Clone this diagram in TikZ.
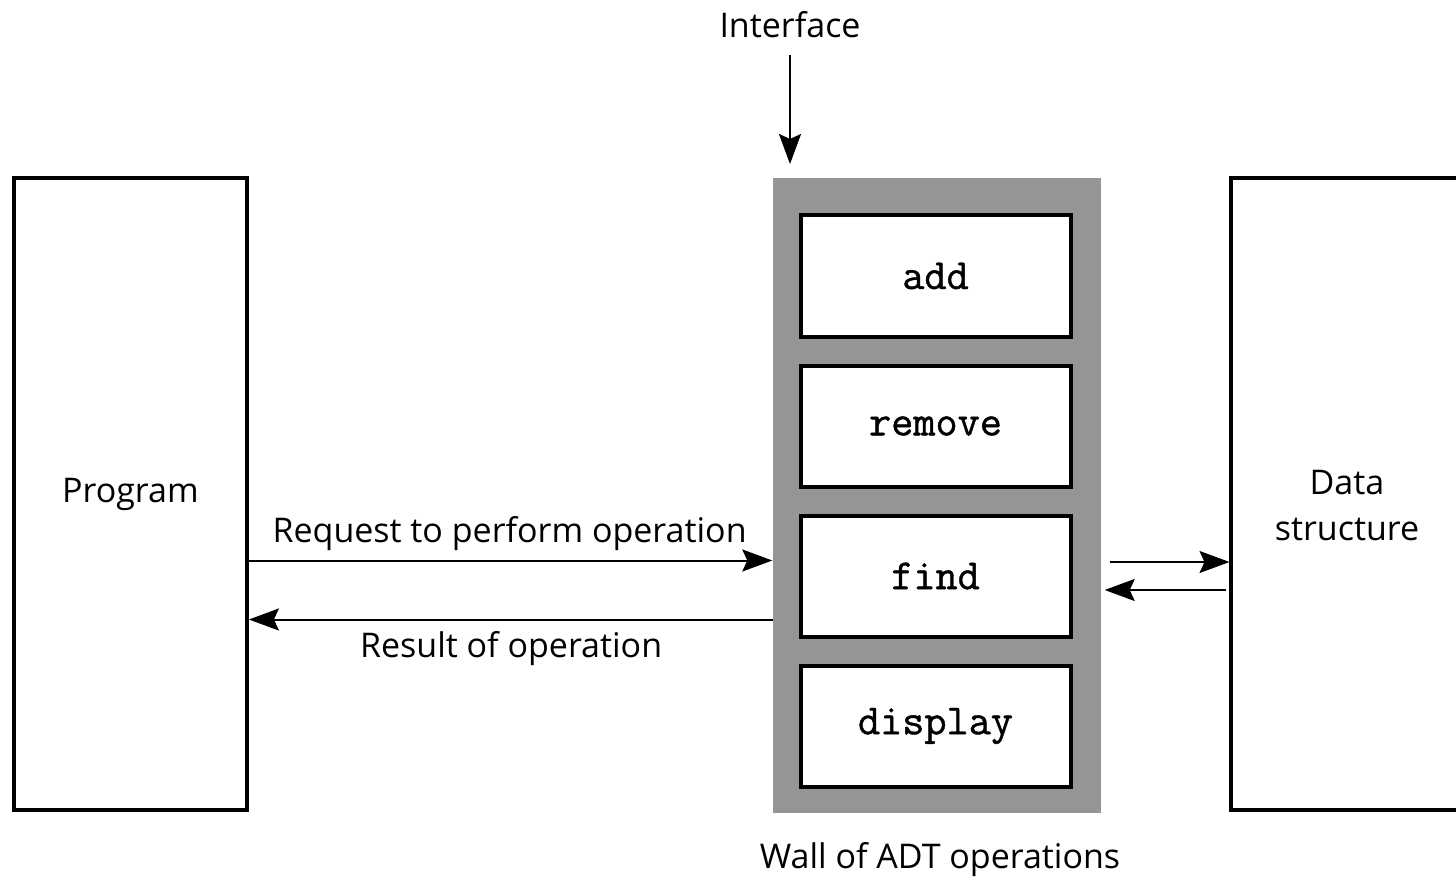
\documentclass[tikz,border=0pt]{standalone}
\usepackage{fontspec}
\setmainfont{Open Sans}
\newfontfamily\opfont{Latin Modern Mono}[FakeBold=1]
\usepackage{xcolor}
\usetikzlibrary{arrows.meta,positioning,calc}
\definecolor{WallGray}{HTML}{959595}
\tikzset{
  block/.style={draw=black,fill=white,line width=2pt,outer sep=0pt,
    minimum width=116.5pt,minimum height=316pt,align=center,
    font=\fontsize{17}{23}\selectfont},
  wall/.style={fill=WallGray,outer sep=0pt,minimum width=163.7pt,minimum height=317.5pt},
  op/.style={draw=black,fill=white,line width=2pt,outer sep=0pt,
    minimum width=135pt,minimum height=60.5pt,font=\fontsize{21.5}{23}\opfont},
  flow/.style={-{Stealth[length=15pt,width=11pt,inset=2.5pt]},line width=1pt},
  lbl/.style={font=\fontsize{17}{23}\selectfont}
}
\begin{document}
\begin{tikzpicture}[x=0.5pt,y=-0.5pt]
  \useasboundingbox (0,0) rectangle (1456,877);
  \clip (0,0) rectangle (1456,877);
  \node[block] (program) at (130.4,494) {Program};
  \node[wall] (wall) at (937,495.5) {};
  \node[block,label={[lbl,align=center,yshift=-6pt]center:Data\\structure}] (data) at (1347,494) {};
  % operations on the wall
  \node[op] (add) at (935.5,276) {add};
  \node[op,below=14.5pt of add] (remove) {remove};
  \node[op,below=14.5pt of remove] (find) {find};
  \node[op,below=14.5pt of find] (display) {display};
  \node[lbl] (iface) at (790,25) {Interface};
  \node[lbl] (walllbl) at (940,860) {Wall of ADT operations};
  \coordinate (ifaceend) at ($(wall.north west)+(17,-14)$);
  \draw[flow] ($(iface.south)+(0,10)$) -- (iface.south |- ifaceend);
  \draw[flow] ($(program.east |- find)+(0,-15.5)$) -- ($(wall.west |- find)+(-1,-15.5)$)
    node[midway,above,lbl,yshift=1pt]{Request to perform operation};
  \draw[flow] ($(wall.west |- find)+(0,43.5)$) -- ($(program.east |- find)+(2,43.5)$)
    node[midway,below,lbl,yshift=-2pt]{Result of operation};
  \draw[flow] ($(wall.east |- find)+(9,-14)$) -- ($(data.west |- find)+(-1,-14)$);
  \draw[flow] ($(data.west |- find)+(-5,14)$) -- ($(wall.east |- find)+(4,14)$);
\end{tikzpicture}
\end{document}
